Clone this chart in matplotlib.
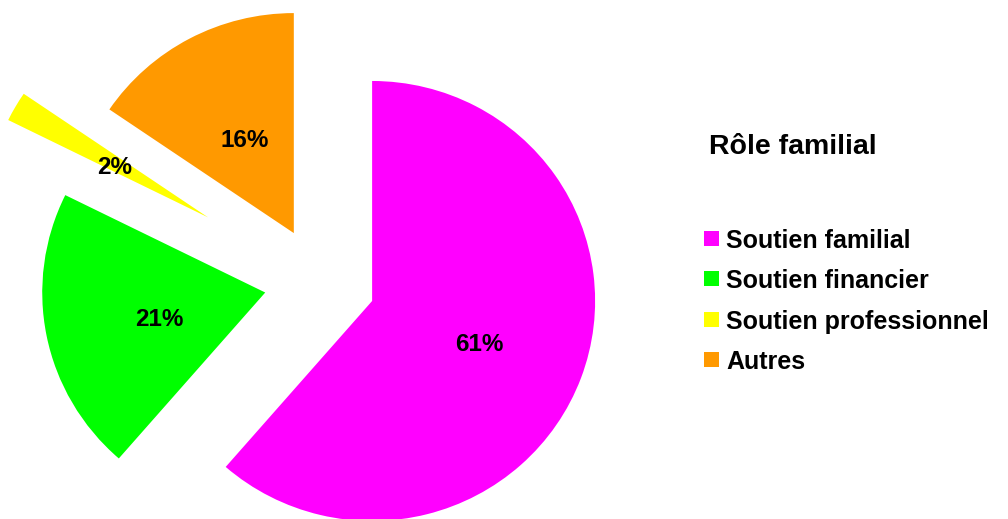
import matplotlib
matplotlib.use("Agg")
import matplotlib.pyplot as plt
from matplotlib.patches import Rectangle

# ---- data ----
categories = ["Soutien familial", "Soutien financier", "Soutien professionnel", "Autres"]
values = [61.4, 20.9, 2.2, 15.5]
pct_labels = ["61%", "21%", "2%", "16%"]
legend_title = "Rôle familial"

# ---- style ----
colors = ["#FF00FF", "#00FF00", "#FFFF00", "#FF9900"]
explode = [0.25, 0.25, 0.58, 0.25]
W, H = 1008, 519
cx, cy = 319.9, 281.7   # pie centre in pixels (y down)
rx, ry = 223.0, 220.0   # pie radius in pixels

plt.rcParams["font.family"] = ["Liberation Sans", "DejaVu Sans"]
plt.rcParams["font.weight"] = "bold"

fig = plt.figure(figsize=(W / 100, H / 100), dpi=100)
ax = fig.add_axes([0, 0, 1, 1])

wedges, texts, autotexts = ax.pie(
    values, colors=colors, explode=explode, startangle=90, counterclock=False,
    radius=1.0, pctdistance=0.5, autopct="%1.0f%%",
    wedgeprops=dict(linewidth=0, antialiased=True),
    textprops=dict(fontsize=17.5, fontweight="bold", color="black"),
)
for t, lab in zip(autotexts, pct_labels):
    t.set_text(lab)
    x, y = t.get_position()
    t.set_position((x + 3 / rx, y - 5 / ry))

ax.set_aspect("auto")
ax.set_xlim(-cx / rx, (W - cx) / rx)
ax.set_ylim(-(H - cy) / ry, cy / ry)
ax.axis("off")


def fx(px):
    return px / W


def fy(py):
    return 1 - py / H


# legend drawn manually to match layout
fig.text(fx(709), fy(154.3), legend_title, fontsize=20.5, fontweight="bold",
         va="baseline", ha="left")
row0, step = 248.0, 40.3
for i, (lab, col) in enumerate(zip(categories, colors)):
    base = row0 + i * step
    fig.patches.append(Rectangle((fx(704), fy(base - 2)), 15 / W, 15 / H,
                                 transform=fig.transFigure, facecolor=col,
                                 edgecolor="none"))
    fig.text(fx(726.5), fy(base), lab, fontsize=18, fontweight="bold",
             va="baseline", ha="left")

fig.savefig("out.png", dpi=100, facecolor="white")
